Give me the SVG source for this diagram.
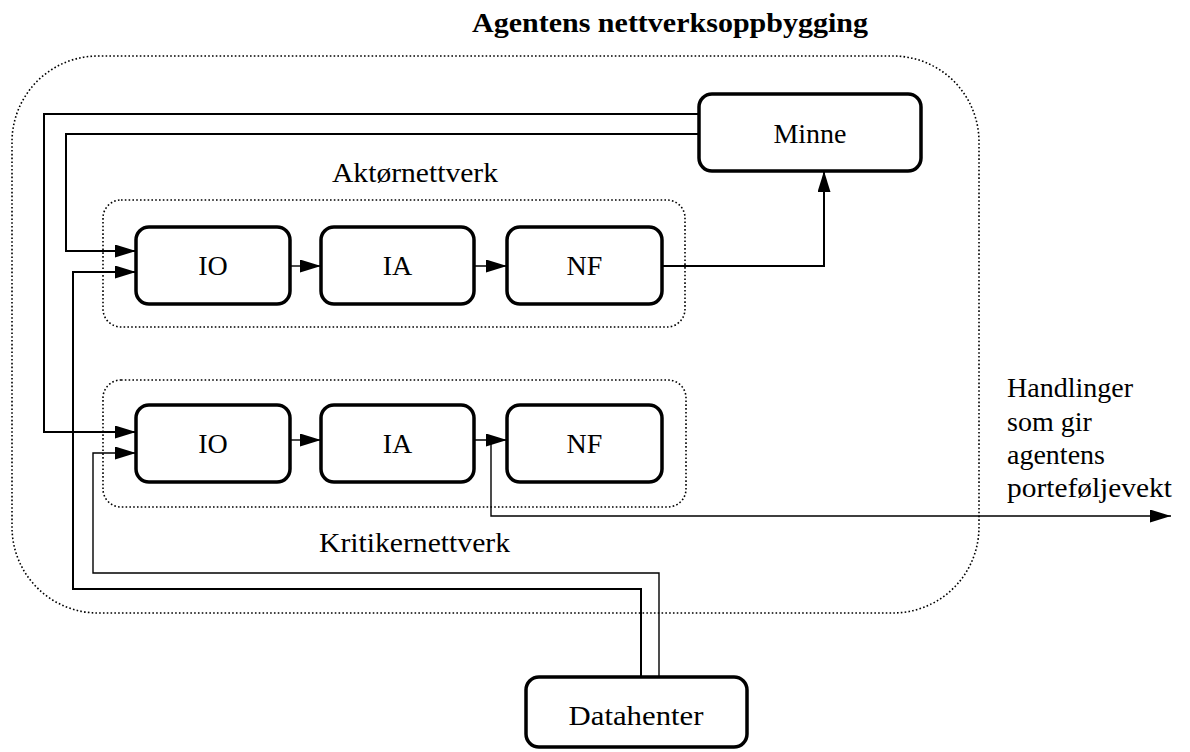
<svg xmlns="http://www.w3.org/2000/svg" width="1190" height="752" viewBox="0 0 1190 752">
  <style>
    text { font-family: "Liberation Serif", "DejaVu Serif", serif; fill: #000; }
    .lbl { font-size: 28px; text-anchor: middle; }
    .cap { font-size: 28px; }
    .title { font-size: 28px; font-weight: bold; }
    .node { fill: #fff; stroke: #000; stroke-width: 3.5; }
    .group { fill: none; stroke: #000; stroke-width: 1.6; stroke-dasharray: 1.6 2.2; }
    .wire { fill: none; stroke: #000; stroke-width: 2; }
    .thin { fill: none; stroke: #000; stroke-width: 1.4; }
  </style>
  <defs>
    <marker id="head" markerUnits="userSpaceOnUse" markerWidth="22" markerHeight="14" refX="21" refY="6.5" orient="auto">
      <path d="M0,0 L21,6.5 L0,13 z" fill="#000"/>
    </marker>
  </defs>

  <!-- title -->
  <text class="title" x="472" y="32" textLength="396" lengthAdjust="spacingAndGlyphs">Agentens nettverksoppbygging</text>

  <!-- outer agent boundary -->
  <rect id="agent" class="group" x="12" y="56" width="967" height="557" rx="86" ry="86"/>

  <!-- sub-network boundaries -->
  <g id="aktor-net">
    <rect class="group" x="103" y="200" width="582" height="127" rx="18" ry="18"/>
    <text class="cap" x="332" y="182" textLength="166" lengthAdjust="spacingAndGlyphs">Aktørnettverk</text>
  </g>
  <g id="kritiker-net">
    <rect class="group" x="103" y="380" width="583" height="127" rx="18" ry="18"/>
    <text class="cap" x="319" y="552" textLength="191" lengthAdjust="spacingAndGlyphs">Kritikernettverk</text>
  </g>

  <!-- connectors -->
  <g id="connectors">
    <!-- memory feeds -->
    <polyline class="wire" points="699,114 44,114 44,432 136,432" marker-end="url(#head)"/>
    <polyline class="wire" points="699,134 66,134 66,251 136,251" marker-end="url(#head)"/>
    <!-- data fetcher feeds -->
    <polyline class="wire" points="641,677 641,589 73,589 73,272 136,272" marker-end="url(#head)"/>
    <polyline class="thin" points="659,677 659,573 93,573 93,453 136,453" marker-end="url(#head)"/>
    <!-- actor chain -->
    <line class="thin" x1="290" y1="266" x2="321" y2="266" marker-end="url(#head)"/>
    <line class="thin" x1="474" y1="266" x2="507" y2="266" marker-end="url(#head)"/>
    <polyline class="wire" points="662,266 824,266 824,171" marker-end="url(#head)"/>
    <!-- critic chain -->
    <line class="thin" x1="290" y1="440" x2="321" y2="440" marker-end="url(#head)"/>
    <line class="thin" x1="474" y1="440" x2="507" y2="440" marker-end="url(#head)"/>
    <!-- actions out -->
    <polyline class="thin" points="491,440 491,516 1171,516" marker-end="url(#head)"/>
  </g>

  <!-- nodes -->
  <g id="minne">
    <rect class="node" x="699" y="94" width="222" height="77" rx="13" ry="13"/>
    <text class="lbl" x="810" y="143">Minne</text>
  </g>
  <g id="aktor-io">
    <rect class="node" x="136" y="227" width="154" height="77" rx="13" ry="13"/>
    <text class="lbl" x="213" y="275">IO</text>
  </g>
  <g id="aktor-ia">
    <rect class="node" x="321" y="227" width="153" height="77" rx="13" ry="13"/>
    <text class="lbl" x="397.5" y="275">IA</text>
  </g>
  <g id="aktor-nf">
    <rect class="node" x="507" y="227" width="155" height="77" rx="13" ry="13"/>
    <text class="lbl" x="584.5" y="275">NF</text>
  </g>
  <g id="kritiker-io">
    <rect class="node" x="136" y="405" width="154" height="77" rx="13" ry="13"/>
    <text class="lbl" x="213" y="453">IO</text>
  </g>
  <g id="kritiker-ia">
    <rect class="node" x="321" y="405" width="153" height="77" rx="13" ry="13"/>
    <text class="lbl" x="397.5" y="453">IA</text>
  </g>
  <g id="kritiker-nf">
    <rect class="node" x="507" y="405" width="155" height="77" rx="13" ry="13"/>
    <text class="lbl" x="584.5" y="453">NF</text>
  </g>
  <g id="datahenter">
    <rect class="node" x="526" y="677" width="221" height="70" rx="13" ry="13"/>
    <text class="lbl" x="636" y="725" textLength="135" lengthAdjust="spacingAndGlyphs">Datahenter</text>
  </g>

  <!-- output caption -->
  <g id="handlinger">
    <text class="cap" x="1007" y="397">Handlinger</text>
    <text class="cap" x="1007" y="431">som gir</text>
    <text class="cap" x="1007" y="464">agentens</text>
    <text class="cap" x="1007" y="497" textLength="165" lengthAdjust="spacingAndGlyphs">porteføljevekt</text>
  </g>
</svg>
